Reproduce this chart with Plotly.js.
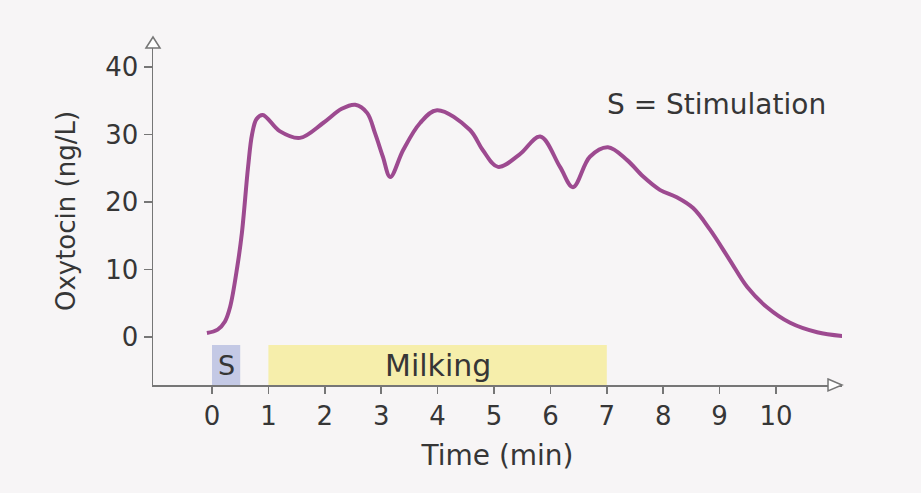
<!DOCTYPE html>
<html>
<head>
<meta charset="utf-8">
<script src="https://cdn.plot.ly/plotly-3.0.1.min.js"></script>
<style>html,body{margin:0;padding:0;background:#f7f5f6;}#chart{width:921px;height:493px;}</style>
</head>
<body>
<div id="chart"></div>
<script>
// Oxytocin concentration (ng/L) over time (min)
const timeMin = [-0.09, 0.1, 0.23, 0.32, 0.45, 0.53, 0.64, 0.71, 0.79, 0.9, 1.2, 1.56, 1.97, 2.3, 2.54, 2.75, 2.89, 3.03, 3.16, 3.39, 3.69, 3.99, 4.57, 4.8, 5.07, 5.45, 5.82, 6.17, 6.4, 6.7, 7.02, 7.36, 7.64, 7.94, 8.24, 8.53, 8.83, 9.18, 9.49, 9.84, 10.25, 10.73, 11.35];
const oxytocin = [0.6, 1.1, 2.3, 4.4, 10.5, 15.4, 25.2, 30.0, 32.3, 32.9, 30.5, 29.5, 31.7, 33.8, 34.4, 33.2, 30.2, 26.7, 23.7, 27.7, 31.7, 33.6, 30.7, 27.7, 25.2, 27.0, 29.7, 25.2, 22.2, 26.7, 28.1, 26.2, 23.8, 21.8, 20.7, 19.1, 15.9, 11.4, 7.4, 4.4, 2.1, 0.7, 0.0];

const xTicks = [0, 1, 2, 3, 4, 5, 6, 7, 8, 9, 10];
const yTicks = [0, 10, 20, 30, 40];

// Phases shown as bands under the curve
const phaseLabels = ["S", "Milking"];
const phaseStart = [0, 1];
const phaseEnd = [0.5, 7];
const phaseColors = ["#c4c9e5", "#f6eeab"];

const legendNote = "S = Stimulation";

const axisColor = "#767676";
const textColor = "#363636";
const fontFam = "DejaVu Sans, sans-serif";

const shapes = [];
const annotations = [];
phaseLabels.forEach((lab, i) => {
  shapes.push({type: "rect", xref: "x", yref: "paper", x0: phaseStart[i], x1: phaseEnd[i], y0: 0, y1: 0.115,
    fillcolor: phaseColors[i], line: {width: 0}, layer: "below"});
  annotations.push({x: (phaseStart[i] + phaseEnd[i]) / 2, y: -4.15, xref: "x", yref: "y", text: lab,
    showarrow: false, font: {family: fontFam, size: i === 0 ? 27 : 30, color: textColor}, xanchor: "center", yanchor: "middle"});
});
annotations.push({x: 6.97, y: 34.4, xref: "x", yref: "y", text: legendNote, showarrow: false,
  font: {family: fontFam, size: 28, color: textColor}, xanchor: "left", yanchor: "middle"});

// Arrow heads of the axes (open triangles)
shapes.push({type: "path", xref: "paper", yref: "paper",
  path: "M0.9797,0.0172 L1,0 L0.9797,-0.0172 Z", fillcolor: "#ffffff", line: {color: axisColor, width: 1.5}});
shapes.push({type: "path", xref: "paper", yref: "paper",
  path: "M-0.0102,0.9684 L0,1 L0.0102,0.9684 Z", fillcolor: "#ffffff", line: {color: axisColor, width: 1.5}});

const trace = {
  x: timeMin, y: oxytocin, type: "scatter", mode: "lines",
  line: {color: "#9d4a90", width: 4, shape: "spline", smoothing: 1},
  hoverinfo: "skip"
};

const layout = {
  width: 921, height: 493,
  paper_bgcolor: "#f7f5f6", plot_bgcolor: "rgba(0,0,0,0)",
  margin: {l: 153, r: 79, t: 37, b: 108},
  showlegend: false,
  font: {family: fontFam, color: textColor},
  xaxis: {
    range: [-1.046, 11.17], tickvals: xTicks, ticktext: xTicks.map(String),
    showgrid: false, zeroline: false, showline: true, linecolor: axisColor, linewidth: 1.5,
    ticks: "outside", ticklen: 7, tickwidth: 1.5, tickcolor: axisColor,
    tickfont: {family: fontFam, size: 26, color: textColor},
    title: {text: "Time (min)", font: {family: fontFam, size: 28, color: textColor}, standoff: 15}
  },
  yaxis: {
    range: [-7.11, 44.44], tickvals: yTicks, ticktext: yTicks.map(String),
    showgrid: false, zeroline: false, showline: true, linecolor: axisColor, linewidth: 1.5,
    ticks: "outside", ticklen: 8, tickwidth: 1.5, tickcolor: axisColor,
    tickfont: {family: fontFam, size: 26, color: textColor},
    title: {text: "Oxytocin (ng/L)", font: {family: fontFam, size: 26, color: textColor}, standoff: 22}
  },
  shapes: shapes,
  annotations: annotations
};

Plotly.newPlot("chart", [trace], layout, {displayModeBar: false, staticPlot: true});
</script>
</body>
</html>
